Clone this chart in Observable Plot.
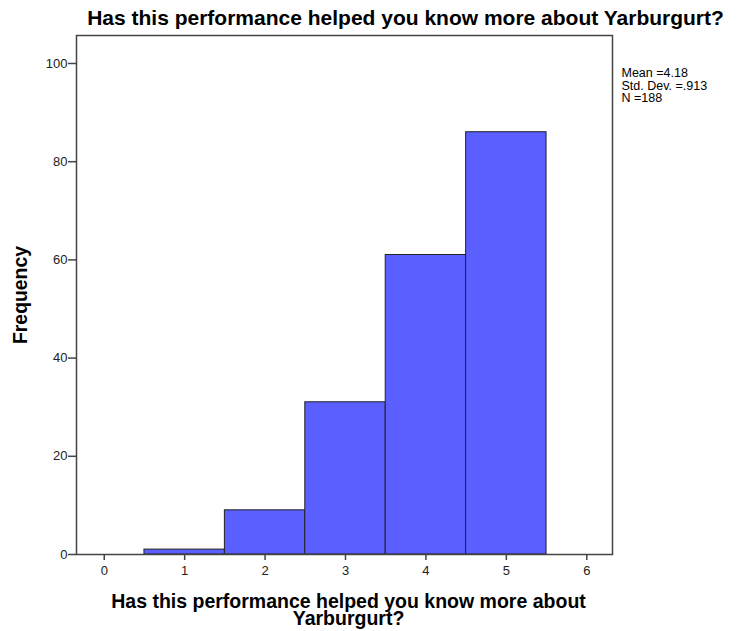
<!DOCTYPE html>
<html>
<head>
<meta charset="utf-8">
<script src="https://cdn.jsdelivr.net/npm/d3@7"></script>
<script src="https://cdn.jsdelivr.net/npm/@observablehq/plot@0.6"></script>
<style>
  html, body { margin: 0; padding: 0; background: #fff; }
  #chart svg { display: block; }
</style>
</head>
<body>
<div id="chart"></div>
<script>
const categories = [1, 2, 3, 4, 5];
const frequencies = [1, 9, 31, 61, 86];
const xTicks = [0, 1, 2, 3, 4, 5, 6];
const yTicks = [0, 20, 40, 60, 80, 100];
const title = "Has this performance helped you know more about Yarburgurt?";
const xLabelLines = ["Has this performance helped you know more about", "Yarburgurt?"];
const yLabel = "Frequency";
const statsLines = ["Mean =4.18", "Std. Dev. =.913", "N =188"];

const bars = categories.map((c, i) => ({x1: c - 0.5, x2: c + 0.5, y: frequencies[i]}));
const font = "'Liberation Sans', Arial, sans-serif";

const chart = Plot.plot({
  width: 741,
  height: 631,
  marginTop: 35,
  marginRight: 129,
  marginBottom: 77,
  marginLeft: 76,
  style: {fontFamily: font, background: "#fff"},
  x: {domain: [-0.345, 6.32]},
  y: {domain: [0, 105.7]},
  marks: [
    Plot.rectY(bars, {x1: "x1", x2: "x2", y: "y", fill: "#5b5fff", stroke: "#222", strokeWidth: 1}),
    Plot.frame({stroke: "#444", strokeWidth: 1.5}),
    Plot.axisX({ticks: xTicks, tickFormat: "d", tickSize: 6, tickPadding: 5, fontSize: 13, label: null, stroke: "#444", strokeWidth: 1.5, fill: "#222"}),
    Plot.axisY({ticks: yTicks, tickFormat: "d", tickSize: 8, tickPadding: 1, fontSize: 13, label: null, stroke: "#444", strokeWidth: 1.5, fill: "#222"}),
    Plot.text([title], {frameAnchor: "top", lineAnchor: "middle", dx: 61, dy: -17, fontSize: 21, fontWeight: "bold", fill: "#000"}),
    Plot.text([xLabelLines[0]], {frameAnchor: "bottom", lineAnchor: "middle", dx: 4, dy: 47, fontSize: 19.5, fontWeight: "bold", fill: "#000"}),
    Plot.text([xLabelLines[1]], {frameAnchor: "bottom", lineAnchor: "middle", dx: 4, dy: 64.5, fontSize: 19.5, fontWeight: "bold", fill: "#000"}),
    Plot.text([yLabel], {frameAnchor: "left", textAnchor: "middle", lineAnchor: "middle", dx: -56, rotate: -90, fontSize: 19.4, fontWeight: "bold", fill: "#000"}),
    Plot.text([statsLines.join("\n")], {frameAnchor: "top-right", textAnchor: "start", lineAnchor: "top", lineHeight: 1, dx: 9, dy: 33, fontSize: 12.5, fill: "#000"})
  ]
});
document.getElementById("chart").appendChild(chart);
</script>
</body>
</html>
